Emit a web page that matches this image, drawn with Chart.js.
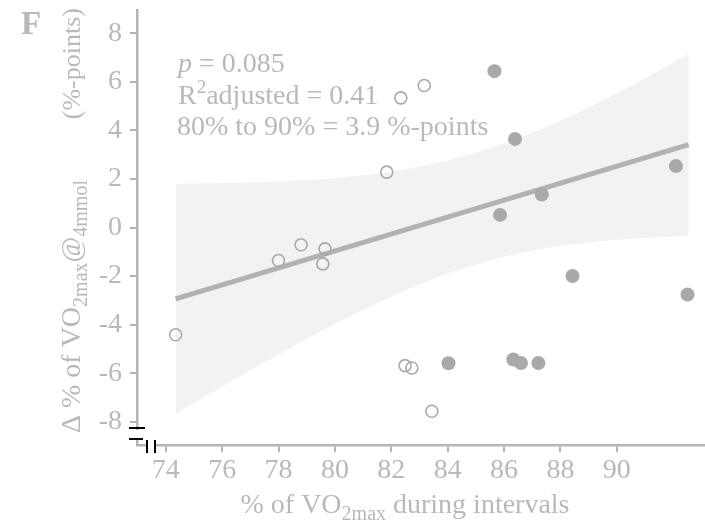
<!DOCTYPE html>
<html>
<head>
<meta charset="utf-8">
<script src="https://cdn.jsdelivr.net/npm/chart.js@4.4.0/dist/chart.umd.min.js"></script>
<style>
   html, body { margin: 0; padding: 0; background: #fff; }
</style>
</head>
<body>
<canvas id="scatterChart" width="705" height="523"></canvas>
<script>
// axis ticks
const xTicks = [74, 76, 78, 80, 82, 84, 86, 88, 90]
const yTicks = [-8, -6, -4, -2, 0, 2, 4, 6, 8]

// open circles
const openX = [74.35, 78.0, 78.8, 79.65, 79.57, 81.84, 82.34, 83.17, 82.49, 82.73, 83.44]
const openY = [-4.42, -1.36, -0.71, -0.88, -1.5, 2.28, 5.34, 5.85, -5.69, -5.79, -7.57]

// filled circles
const filledX = [84.03, 85.66, 86.39, 85.86, 87.34, 86.33, 86.6, 87.22, 88.43, 92.1, 92.51]
const filledY = [-5.59, 6.44, 3.65, 0.52, 1.36, -5.44, -5.58, -5.58, -2.0, 2.53, -2.76]

// regression line and its confidence band
const fitX = [74.35, 92.55]
const fitY = [-2.94, 3.41]
const bandX = [74.35, 76, 78, 80, 82, 84, 86, 88, 90, 92.55]
const bandUpper = [1.8, 1.83, 1.89, 2.04, 2.31, 2.76, 3.46, 4.4, 5.54, 7.14]
const bandLower = [-7.68, -6.55, -5.23, -3.98, -2.85, -1.9, -1.2, -0.76, -0.5, -0.34]

const textColor = "#b9b9b9"
const axisColor = "#b4b4b4"
const pointColor = "#a9a9a9"
const serif = "'Liberation Serif', 'Times New Roman', serif"

const toPoints = (xs, ys) => xs.map((x, i) => ({ x: x, y: ys[i] }))

drawRich = (ctx, x, y, parts) => {
   parts.forEach(p => {
      ctx.font = `${p.style || ""} ${p.size}px ${serif}`
      ctx.fillText(p.t, x, y + (p.dy || 0))
      x += ctx.measureText(p.t).width
   })
   return x
}

richWidth = (ctx, parts) => {
   let w = 0
   parts.forEach(p => {
      ctx.font = `${p.style || ""} ${p.size}px ${serif}`
      w += ctx.measureText(p.t).width
   })
   return w
}

const textPlugin = {
   id: "texts",
   afterDraw(chart) {
      const ctx = chart.ctx
      ctx.save()
      ctx.fillStyle = textColor
      ctx.textBaseline = "alphabetic"
      ctx.textAlign = "left"

      // panel letter
      ctx.font = `bold 33px ${serif}`
      ctx.fillText("F", 21, 34)

      // stats text
      drawRich(ctx, 178, 72, [
         { t: "p", size: 28, style: "italic" },
         { t: " = 0.085", size: 28 },
      ])
      drawRich(ctx, 178, 104, [
         { t: "R", size: 28 },
         { t: "2", size: 19, dy: -11 },
         { t: "adjusted = 0.41", size: 28 },
      ])
      drawRich(ctx, 177, 135, [{ t: "80% to 90% = 3.9 %-points", size: 28 }])

      // x title
      const xParts = [
         { t: "% of VO", size: 28 },
         { t: "2max", size: 20, dy: 7 },
         { t: " during intervals", size: 28 },
      ]
      const xw = richWidth(ctx, xParts)
      drawRich(ctx, 405 - xw / 2, 513, xParts)

      // y title (rotated)
      ctx.translate(80, 433)
      ctx.rotate(-Math.PI / 2)
      drawRich(ctx, 0, 0, [
         { t: "\u0394 % of VO", size: 28 },
         { t: "2max", size: 20, dy: 7 },
         { t: "@", size: 28 },
         { t: "4mmol", size: 20, dy: 7 },
      ])
      ctx.textAlign = "right"
      ctx.font = `26px ${serif}`
      ctx.fillText("(%-points)", 425, 0)
      ctx.restore()

      // axis break marks
      ctx.save()
      ctx.fillStyle = "#fff"
      ctx.fillRect(131, 430, 10, 8)
      ctx.fillRect(148, 440, 6, 10)
      ctx.strokeStyle = "#000"
      ctx.lineWidth = 2
      ctx.beginPath()
      ctx.moveTo(129, 428)
      ctx.lineTo(145, 428)
      ctx.moveTo(129, 439)
      ctx.lineTo(143, 439)
      ctx.moveTo(147, 440)
      ctx.lineTo(147, 453)
      ctx.moveTo(155, 440)
      ctx.lineTo(155, 453)
      ctx.stroke()
      ctx.restore()
   },
}

const ctxScatter = document.getElementById("scatterChart").getContext("2d")
const scatterChart = new Chart(ctxScatter, {
   type: "scatter",
   data: {
      datasets: [
         {
            type: "line",
            data: toPoints(bandX, bandUpper),
            borderWidth: 0,
            pointRadius: 0,
            fill: "+1",
            backgroundColor: "#f2f2f2",
            cubicInterpolationMode: "monotone",
            order: 4,
         },
         {
            type: "line",
            data: toPoints(bandX, bandLower),
            borderWidth: 0,
            pointRadius: 0,
            fill: false,
            cubicInterpolationMode: "monotone",
            order: 3,
         },
         {
            type: "line",
            data: toPoints(fitX, fitY),
            borderColor: "#b2b2b2",
            borderWidth: 5,
            pointRadius: 0,
            fill: false,
            order: 2,
         },
         {
            data: toPoints(openX, openY),
            pointRadius: 6,
            pointBackgroundColor: "rgba(255,255,255,0)",
            pointBorderColor: pointColor,
            pointBorderWidth: 1.6,
            order: 1,
         },
         {
            data: toPoints(filledX, filledY),
            pointRadius: 7,
            pointBackgroundColor: pointColor,
            pointBorderColor: pointColor,
            pointBorderWidth: 0,
            order: 0,
         },
      ],
   },
   options: {
      responsive: false,
      animation: false,
      layout: {
         autoPadding: false,
         padding: { top: 10, right: 0, bottom: 0, left: 0 },
      },
      plugins: {
         legend: { display: false },
         tooltip: { enabled: false },
      },
      scales: {
         x: {
            type: "linear",
            min: 72.98,
            max: 93.13,
            afterBuildTicks: scale => {
               scale.ticks = xTicks.map(v => ({ value: v }))
            },
            afterFit: scale => {
               scale.height = 78
               scale.paddingLeft = 0
               scale.paddingRight = 0
            },
            grid: {
               drawOnChartArea: false,
               drawTicks: true,
               tickLength: 7,
               tickColor: axisColor,
               lineWidth: 2,
            },
            border: { display: true, color: axisColor, width: 2.5 },
            ticks: {
               color: textColor,
               font: { family: serif, size: 28 },
               padding: 2,
               maxRotation: 0,
               autoSkip: false,
            },
         },
         y: {
            type: "linear",
            min: -8.96,
            max: 8.96,
            afterBuildTicks: scale => {
               scale.ticks = yTicks.map(v => ({ value: v }))
            },
            afterFit: scale => {
               scale.width = 137
               scale.paddingTop = 0
               scale.paddingBottom = 0
            },
            grid: {
               drawOnChartArea: false,
               drawTicks: true,
               tickLength: 7,
               tickColor: axisColor,
               lineWidth: 2,
            },
            border: { display: true, color: axisColor, width: 2.5 },
            ticks: {
               color: textColor,
               font: { family: serif, size: 28 },
               padding: 8,
               autoSkip: false,
            },
         },
      },
   },
   plugins: [textPlugin],
})
</script>
</body>
</html>
